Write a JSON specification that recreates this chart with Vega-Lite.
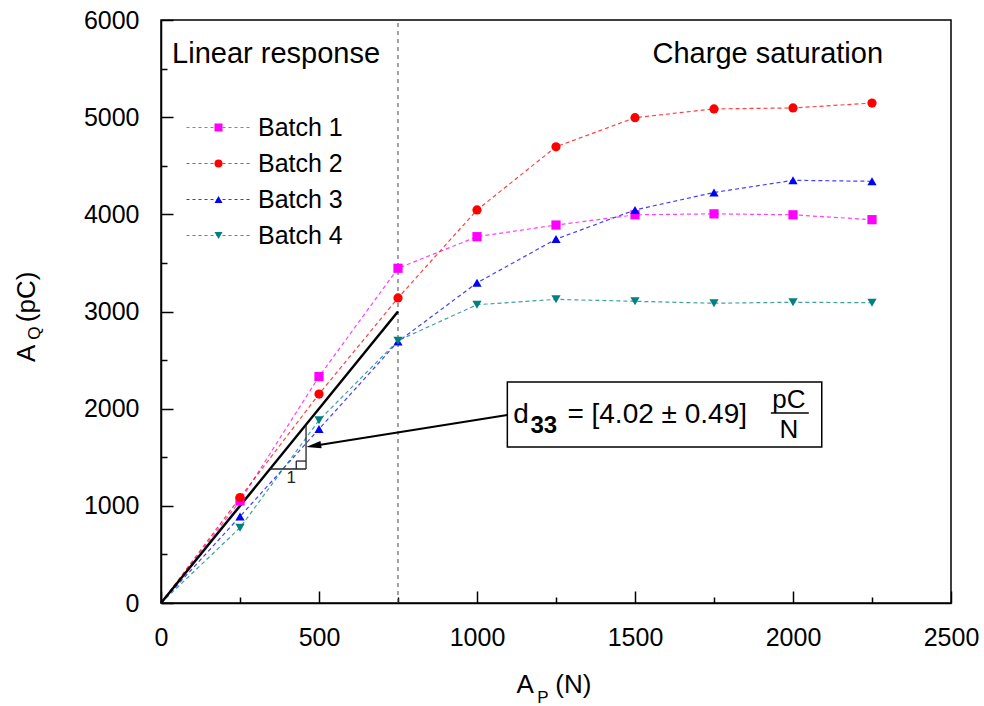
{
  "$schema": "https://vega.github.io/schema/vega-lite/v6.json",
  "width": 790,
  "height": 583,
  "autosize": {"type": "none"},
  "padding": {"left": 161, "top": 20, "right": 33, "bottom": 103},
  "background": "white",
  "config": {
    "view": {"stroke": "black", "strokeWidth": 1.5},
    "font": "Liberation Sans",
    "axis": {
      "domainColor": "black", "domainWidth": 1.5, "tickColor": "black", "tickWidth": 1.5,
      "labelFont": "Liberation Sans", "labelFontSize": 25, "labelColor": "black",
      "grid": false, "title": null, "labelOverlap": false, "labelFlush": false
    },
    "legend": {"labelFont": "Liberation Sans", "labelFontSize": 25, "labelColor": "black"}
  },
  "layer": [
    {
      "data": {"values": [{"x": 750, "y": 0, "y2": 6000}]},
      "mark": {"type": "rule", "color": "#444444", "strokeDash": [4, 4], "strokeWidth": 1},
      "encoding": {
        "x": {"field": "x", "type": "quantitative", "scale": {"domain": [0, 2500], "nice": false},
          "axis": {"values": [0, 250, 500, 750, 1000, 1250, 1500, 1750, 2000, 2250, 2500], "format": "d",
            "labelExpr": "datum.value % 500 === 0 ? datum.label : ''",
            "tickSize": {"condition": {"test": "datum.value % 500 !== 0", "value": -6}, "value": -12},
            "labelPadding": 34}},
        "y": {"field": "y", "type": "quantitative", "scale": {"domain": [0, 6000], "nice": false},
          "axis": {"values": [0, 500, 1000, 1500, 2000, 2500, 3000, 3500, 4000, 4500, 5000, 5500, 6000], "format": "d",
            "labelExpr": "datum.value % 1000 === 0 ? datum.label : ''",
            "tickSize": {"condition": {"test": "datum.value % 1000 !== 0", "value": -6}, "value": -12},
            "labelPadding": 34}},
        "y2": {"field": "y2"}
      }
    },
    {
      "data": {"name": "main"},
      "transform": [{"calculate": "datum.batch", "as": "series"}],
      "mark": {"type": "line", "strokeDash": [4, 3], "strokeWidth": 1.2, "opacity": 0.75},
      "encoding": {
        "x": {"field": "x", "type": "quantitative"},
        "y": {"field": "y", "type": "quantitative"},
        "stroke": {"field": "series", "type": "nominal",
          "scale": {"range": ["#FF00FF", "#FF0000", "#0000FF", "#008080"]},
          "legend": {"title": null, "orient": "none", "legendX": 45, "legendY": 95, "padding": 0,
            "symbolType": "M-8,0H8", "symbolSize": 64, "symbolDash": [3, 3], "symbolStrokeWidth": 1.2,
            "labelOffset": 27, "rowPadding": 10, "symbolOpacity": 0.8}}
      }
    },
    {
      "data": {"values": [{"x": 0, "y": 0, "x2": 750, "y2": 3000}]},
      "mark": {"type": "rule", "color": "black", "strokeWidth": 2.5},
      "encoding": {"x": {"field": "x", "type": "quantitative"}, "y": {"field": "y", "type": "quantitative"}, "x2": {"field": "x2"}, "y2": {"field": "y2"}}
    },
    {
      "data": {"values": [
        {"x": 345, "y": 1379, "x2": 459, "y2": 1379},
        {"x": 459, "y": 1379, "x2": 459, "y2": 1836},
        {"x": 428, "y": 1379, "x2": 428, "y2": 1461},
        {"x": 428, "y": 1461, "x2": 459, "y2": 1461}
      ]},
      "mark": {"type": "rule", "color": "#222222", "strokeWidth": 1.3},
      "encoding": {"x": {"field": "x", "type": "quantitative"}, "y": {"field": "y", "type": "quantitative"}, "x2": {"field": "x2"}, "y2": {"field": "y2"}}
    },
    {
      "data": {"values": [{"x": 412, "y": 1235, "t": "1"}]},
      "mark": {"type": "text", "fontSize": 17, "align": "center", "baseline": "alphabetic", "color": "#222222"},
      "encoding": {"x": {"field": "x", "type": "quantitative"}, "y": {"field": "y", "type": "quantitative"}, "text": {"field": "t"}}
    },
    {
      "data": {"name": "main"},
      "transform": [{"filter": "datum.x > 0"}],
      "mark": {"type": "point", "filled": true, "opacity": 1, "size": 85},
      "encoding": {
        "x": {"field": "x", "type": "quantitative"},
        "y": {"field": "y", "type": "quantitative"},
        "fill": {"field": "batch", "type": "nominal",
          "scale": {"range": ["#FF00FF", "#FF0000", "#0000FF", "#008080"]},
          "legend": {"title": null, "orient": "none", "legendX": 45, "legendY": 95, "padding": 0,
            "symbolSize": 64, "labelOffset": 27, "rowPadding": 10, "labelOpacity": 0}},
        "shape": {"field": "batch", "type": "nominal",
          "scale": {"range": ["square", "circle", "triangle-up", "triangle-down"]},
          "legend": {"title": null, "orient": "none", "legendX": 45, "legendY": 95, "padding": 0,
            "symbolSize": 64, "labelOffset": 27, "rowPadding": 10, "labelOpacity": 0}}
      }
    },
    {
      "data": {"values": [{"x": 1096, "y": 1605, "x2": 2091, "y2": 2274}]},
      "mark": {"type": "rect", "fill": "white", "stroke": "black", "strokeWidth": 1.5},
      "encoding": {"x": {"field": "x", "type": "quantitative"}, "y": {"field": "y", "type": "quantitative"}, "x2": {"field": "x2"}, "y2": {"field": "y2"}}
    },
    {
      "data": {"values": [{"x": 1096, "y": 1935, "x2": 490, "y2": 1620}]},
      "mark": {"type": "rule", "color": "black", "strokeWidth": 2},
      "encoding": {"x": {"field": "x", "type": "quantitative"}, "y": {"field": "y", "type": "quantitative"}, "x2": {"field": "x2"}, "y2": {"field": "y2"}}
    },
    {
      "data": {"values": [{"x": 483, "y": 1618}]},
      "mark": {"type": "point", "shape": "M-1,0L1,-0.5L1,0.5Z", "filled": true, "color": "black", "opacity": 1, "size": 225, "angle": 351},
      "encoding": {"x": {"field": "x", "type": "quantitative"}, "y": {"field": "y", "type": "quantitative"}}
    },
    {
      "data": {"values": [{"x": 1115, "y": 1853, "t": "d"}, {"x": 1286, "y": 1853, "t": "= [4.02 ± 0.49]"}]},
      "mark": {"type": "text", "fontSize": 28, "align": "left", "baseline": "alphabetic", "color": "black"},
      "encoding": {"x": {"field": "x", "type": "quantitative"}, "y": {"field": "y", "type": "quantitative"}, "text": {"field": "t"}}
    },
    {
      "data": {"values": [{"x": 1169, "y": 1745, "t": "33"}]},
      "mark": {"type": "text", "fontSize": 24, "fontWeight": "bold", "align": "left", "baseline": "alphabetic", "color": "black"},
      "encoding": {"x": {"field": "x", "type": "quantitative"}, "y": {"field": "y", "type": "quantitative"}, "text": {"field": "t"}}
    },
    {
      "data": {"values": [{"x": 1987, "y": 2007, "t": "pC"}, {"x": 1987, "y": 1698, "t": "N"}]},
      "mark": {"type": "text", "fontSize": 26, "align": "center", "baseline": "alphabetic", "color": "black"},
      "encoding": {"x": {"field": "x", "type": "quantitative"}, "y": {"field": "y", "type": "quantitative"}, "text": {"field": "t"}}
    },
    {
      "data": {"values": [{"x": 1930, "y": 1955, "x2": 2050}]},
      "mark": {"type": "rule", "color": "black", "strokeWidth": 1.5},
      "encoding": {"x": {"field": "x", "type": "quantitative"}, "y": {"field": "y", "type": "quantitative"}, "x2": {"field": "x2"}}
    },
    {
      "data": {"values": [{"x": 35, "y": 5557, "t": "Linear response"}]},
      "mark": {"type": "text", "fontSize": 29, "align": "left", "baseline": "alphabetic", "color": "black"},
      "encoding": {"x": {"field": "x", "type": "quantitative"}, "y": {"field": "y", "type": "quantitative"}, "text": {"field": "t"}}
    },
    {
      "data": {"values": [{"x": 2285, "y": 5557, "t": "Charge saturation"}]},
      "mark": {"type": "text", "fontSize": 29, "align": "right", "baseline": "alphabetic", "color": "black"},
      "encoding": {"x": {"field": "x", "type": "quantitative"}, "y": {"field": "y", "type": "quantitative"}, "text": {"field": "t"}}
    },
    {
      "data": {"values": [{"x": 1125, "y": -926, "t": "A"}, {"x": 1248, "y": -926, "t": "(N)"}]},
      "mark": {"type": "text", "fontSize": 26, "align": "left", "baseline": "alphabetic", "color": "black"},
      "encoding": {"x": {"field": "x", "type": "quantitative"}, "y": {"field": "y", "type": "quantitative"}, "text": {"field": "t"}}
    },
    {
      "data": {"values": [{"x": 1191, "y": -1029, "t": "P"}]},
      "mark": {"type": "text", "fontSize": 17, "align": "left", "baseline": "alphabetic", "color": "black"},
      "encoding": {"x": {"field": "x", "type": "quantitative"}, "y": {"field": "y", "type": "quantitative"}, "text": {"field": "t"}}
    },
    {
      "data": {"values": [{"x": -399, "y": 2480, "t": "A"}, {"x": -399, "y": 2890, "t": "(pC)"}]},
      "mark": {"type": "text", "fontSize": 26, "angle": 270, "align": "left", "baseline": "alphabetic", "color": "black"},
      "encoding": {"x": {"field": "x", "type": "quantitative"}, "y": {"field": "y", "type": "quantitative"}, "text": {"field": "t"}}
    },
    {
      "data": {"values": [{"x": -383, "y": 2710, "t": "Q"}]},
      "mark": {"type": "text", "fontSize": 17, "angle": 270, "align": "left", "baseline": "alphabetic", "color": "black"},
      "encoding": {"x": {"field": "x", "type": "quantitative"}, "y": {"field": "y", "type": "quantitative"}, "text": {"field": "t"}}
    }
  ],
  "datasets": {
    "main": [
      {"batch": "Batch 1", "x": 0, "y": 0}, {"batch": "Batch 1", "x": 250, "y": 1050}, {"batch": "Batch 1", "x": 500, "y": 2330},
      {"batch": "Batch 1", "x": 750, "y": 3445}, {"batch": "Batch 1", "x": 1000, "y": 3770}, {"batch": "Batch 1", "x": 1250, "y": 3890},
      {"batch": "Batch 1", "x": 1500, "y": 3995}, {"batch": "Batch 1", "x": 1750, "y": 4005}, {"batch": "Batch 1", "x": 2000, "y": 3995},
      {"batch": "Batch 1", "x": 2250, "y": 3945},
      {"batch": "Batch 2", "x": 0, "y": 0}, {"batch": "Batch 2", "x": 250, "y": 1085}, {"batch": "Batch 2", "x": 500, "y": 2150},
      {"batch": "Batch 2", "x": 750, "y": 3140}, {"batch": "Batch 2", "x": 1000, "y": 4045}, {"batch": "Batch 2", "x": 1250, "y": 4695},
      {"batch": "Batch 2", "x": 1500, "y": 4995}, {"batch": "Batch 2", "x": 1750, "y": 5085}, {"batch": "Batch 2", "x": 2000, "y": 5095},
      {"batch": "Batch 2", "x": 2250, "y": 5145},
      {"batch": "Batch 3", "x": 0, "y": 0}, {"batch": "Batch 3", "x": 250, "y": 890}, {"batch": "Batch 3", "x": 500, "y": 1790},
      {"batch": "Batch 3", "x": 750, "y": 2690}, {"batch": "Batch 3", "x": 1000, "y": 3295}, {"batch": "Batch 3", "x": 1250, "y": 3745},
      {"batch": "Batch 3", "x": 1500, "y": 4045}, {"batch": "Batch 3", "x": 1750, "y": 4225}, {"batch": "Batch 3", "x": 2000, "y": 4350},
      {"batch": "Batch 3", "x": 2250, "y": 4340},
      {"batch": "Batch 4", "x": 0, "y": 0}, {"batch": "Batch 4", "x": 250, "y": 775}, {"batch": "Batch 4", "x": 500, "y": 1880},
      {"batch": "Batch 4", "x": 750, "y": 2700}, {"batch": "Batch 4", "x": 1000, "y": 3070}, {"batch": "Batch 4", "x": 1250, "y": 3125},
      {"batch": "Batch 4", "x": 1500, "y": 3105}, {"batch": "Batch 4", "x": 1750, "y": 3085}, {"batch": "Batch 4", "x": 2000, "y": 3095},
      {"batch": "Batch 4", "x": 2250, "y": 3090}
    ]
  }
}
